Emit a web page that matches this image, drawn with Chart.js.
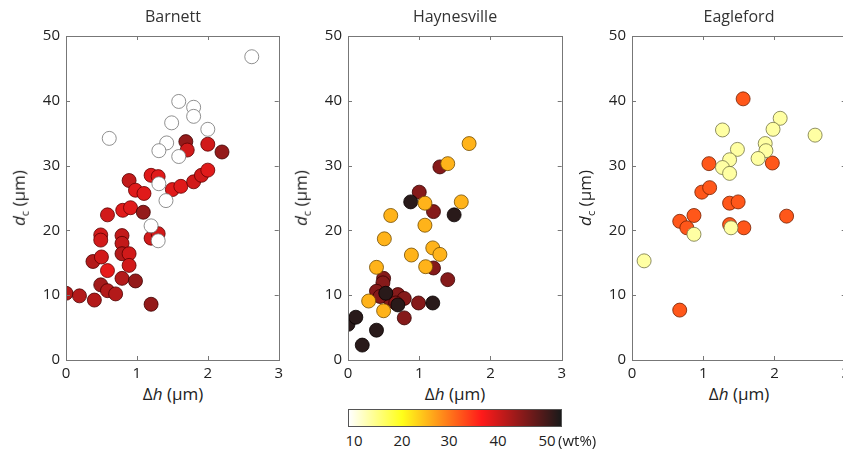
<!DOCTYPE html>
<html>
<head>
<meta charset="utf-8">
<script src="https://cdn.jsdelivr.net/npm/chart.js@4.4.1/dist/chart.umd.min.js"></script>
<style>
  html,body{margin:0;padding:0;background:#fff;}
  body{width:843px;height:454px;position:relative;overflow:hidden;font-family:"Open Sans",sans-serif;color:#222;}
  .pane{position:absolute;top:0;height:380px;}
  .txt{position:absolute;white-space:nowrap;font-size:15px;color:#222;line-height:18px;}
  .ttl{position:absolute;white-space:nowrap;font-size:16px;line-height:20px;color:#333;transform:translateX(-50%);}
  .ytitle{position:absolute;white-space:nowrap;font-size:17px;line-height:20px;color:#222;transform:translate(-50%,-50%) rotate(-90deg);}
  #cbar{position:absolute;left:348px;top:409px;width:214px;height:18px;border:1px solid #555;box-sizing:border-box;}
</style>
</head>
<body>
<script>
// ---------------- data ----------------
const panelTitles = ["Barnett", "Haynesville", "Eagleford"];
const xTicks = [0, 1, 2, 3];
const yTicks = [0, 10, 20, 30, 40, 50];
const cbarTicks = [10, 20, 30, 40, 50];

// Barnett: Δh (µm), d_c (µm), colour value (wt%)
const barnettX = [0,0.19,0.4,0.49,0.585,0.70,1.2,0.38,0.5,0.49,0.49,0.585,0.585,0.79,0.79,0.79,0.89,0.89,0.79,0.98,0.80,0.91,0.89,0.98,1.10,1.09,1.2,1.30,1.2,1.30,1.50,1.62,1.69,1.71,1.80,1.91,2.0,2.0,2.2,
                  2.62,1.59,1.80,1.80,1.49,2.0,0.61,1.42,1.31,1.59,1.31,1.41,1.2,1.30];
const barnettY = [10.3,9.9,9.25,11.6,10.7,10.2,8.6,15.2,15.9,19.3,18.5,13.8,22.4,19.2,18.0,16.4,16.4,14.6,12.6,12.2,23.1,23.5,27.7,26.2,25.7,22.8,28.5,28.3,18.8,19.5,26.3,26.8,33.7,32.4,27.5,28.5,29.3,33.3,32.1,
                  46.8,39.9,39.0,37.6,36.6,35.6,34.2,33.5,32.3,31.4,27.2,24.6,20.7,18.4];
const barnettW = [40,40,40,41,40,40,42,40,38,38,38,36.5,38,39,39,40,38,38,40,42,37,37,39,37,37,42,37,37,38,38,37,37,42,38,38,38,37,38,42,
                  10,10,10,10,10,10,10,10,10,10,10,10,10,10];

const haynesX = [1.29,1.0,1.2,1.2,1.40,0.50,0.49,0.40,0.58,0.70,0.79,0.67,0.99,0.79,0.45,
                 0.88,1.49,1.19,0,0.11,0.40,0.2,0.53,0.70,
                 1.70,1.40,1.59,1.08,0.60,1.08,0.51,1.19,1.29,0.89,1.09,0.40,0.29,0.50];
const haynesY = [29.8,25.9,22.9,14.2,12.4,12.6,11.9,10.6,9.5,10.1,9.5,8.8,8.8,6.5,9.8,
                 24.4,22.4,8.8,5.5,6.6,4.6,2.3,10.3,8.5,
                 33.4,30.3,24.4,24.2,22.3,20.8,18.7,17.3,16.3,16.2,14.4,14.3,9.1,7.6];
const haynesW = [43,43,43,43,43,43,43,43,43,43,43,43,43,43,43,
                 49,49,49,49,49,49,49,49,49,
                 25,25,25,25,25,25,25,25,25,25,25,25,25,25];

const eagleX = [1.56,1.08,1.97,0.98,1.09,1.37,1.49,0.87,0.67,0.77,1.37,1.57,2.17,0.67,
                1.27,2.08,1.98,2.57,1.48,1.87,1.88,1.37,1.27,1.37,1.77,1.39,0.87,0.17];
const eagleY = [40.3,30.3,30.4,25.9,26.6,24.2,24.4,22.3,21.4,20.4,20.9,20.4,22.2,7.7,
                35.5,37.3,35.6,34.7,32.5,33.4,32.3,30.9,29.7,28.8,31.1,20.4,19.4,15.3];
const eagleW = [31,31,31,31,31,31,31,31,31,31,31,31,31,31,
                14,14,14,14,14,14,14,14,14,14,14,14,14,14];

// ---------------- colour map (reversed "hot") ----------------
function hotRev(w){
  const v = Math.max(0, Math.min(1, 1 - (w - 10) / 40));
  const r = Math.min(1, v / 0.375);
  const g = Math.max(0, Math.min(1, (v - 0.375) / 0.375));
  const b = Math.max(0, Math.min(1, (v - 0.75) / 0.25));
  return [r, g, b];
}
function rgb(c, k, lift){
  const f = x => Math.round(255 * (x * k + (lift || 0) * (1 - x * k)));
  return `rgb(${f(c[0])},${f(c[1])},${f(c[2])})`;
}

// ---------------- layout ----------------
const panes = [
  {left: 26, width: 262},
  {left: 308, width: 263},
  {left: 592, width: 263}
];
const datasets = [
  [barnettX, barnettY, barnettW],
  [haynesX, haynesY, haynesW],
  [eagleX, eagleY, eagleW]
];

const frame = {
  id: 'frame',
  afterDatasetsDraw(chart){
    const {ctx, chartArea: a, scales} = chart;
    ctx.save();
    ctx.strokeStyle = '#777';
    ctx.lineWidth = 1;
    ctx.beginPath();
    xTicks.forEach(t => {
      const x = Math.round(scales.x.getPixelForValue(t)) + 0.5;
      ctx.moveTo(x, a.bottom); ctx.lineTo(x, a.bottom - 4);
      ctx.moveTo(x, a.top); ctx.lineTo(x, a.top + 4);
    });
    yTicks.forEach(t => {
      const y = Math.round(scales.y.getPixelForValue(t)) + 0.5;
      ctx.moveTo(a.left, y); ctx.lineTo(a.left + 4, y);
      ctx.moveTo(a.right, y); ctx.lineTo(a.right - 4, y);
    });
    ctx.stroke();
    ctx.strokeRect(Math.round(a.left) + 0.5, Math.round(a.top) + 0.5, Math.round(a.right - a.left), Math.round(a.bottom - a.top));
    ctx.restore();
  }
};

Chart.defaults.font.family = '"Open Sans", sans-serif';
Chart.defaults.color = '#222';

panes.forEach((p, i) => {
  const div = document.createElement('div');
  div.className = 'pane';
  div.style.left = p.left + 'px';
  div.style.width = p.width + 'px';
  const cv = document.createElement('canvas');
  div.appendChild(cv);
  document.body.appendChild(div);

  const [xs, ys, ws] = datasets[i];
  const pts = xs.map((x, j) => ({x, y: ys[j]}));
  const fills = ws.map(w => rgb(hotRev(w), 1, 0.1));
  const edges = ws.map(w => rgb(hotRev(w), 0.45, 0));

  new Chart(cv, {
    type: 'scatter',
    data: {datasets: [{
      data: pts,
      backgroundColor: fills,
      borderColor: edges,
      borderWidth: 0.8,
      pointRadius: 7,
      pointHoverRadius: 7
    }]},
    options: {
      responsive: true,
      maintainAspectRatio: false,
      animation: false,
      events: [],
      layout: {padding: {top: 36, right: 8, left: 0, bottom: 0}},
      plugins: {legend: {display: false}, tooltip: {enabled: false}},
      scales: {
        x: {
          type: 'linear', min: 0, max: 3,
          afterBuildTicks: s => { s.ticks = xTicks.map(v => ({value: v})); },
          afterFit: s => { s.height = 20; },
          grid: {display: false, drawTicks: false},
          border: {display: false},
          ticks: {font: {size: 15}, color: '#222', padding: 5, maxRotation: 0}
        },
        y: {
          type: 'linear', min: 0, max: 50,
          afterBuildTicks: s => { s.ticks = yTicks.map(v => ({value: v})); },
          afterFit: s => { s.width = 40; },
          grid: {display: false, drawTicks: false},
          border: {display: false},
          ticks: {font: {size: 15}, color: '#222', padding: 6}
        }
      }
    },
    plugins: [frame]
  });
});

// ---------------- text overlays ----------------
function addText(cls, html, left, top){
  const d = document.createElement('div');
  d.className = cls;
  d.innerHTML = html;
  d.style.left = left + 'px';
  d.style.top = top + 'px';
  document.body.appendChild(d);
  return d;
}
const plotLefts = [66, 348, 632];
panelTitles.forEach((t, i) => {
  addText('ttl', t, plotLefts[i] + 107, 6);
  const xt = addText('ttl', '&Delta;<i>h</i> (&micro;m)', plotLefts[i] + 107, 384);
  xt.style.fontSize = '17px'; xt.style.color = '#222';
  addText('ytitle', '<i>d</i><sub style="font-size:11px">c</sub> (&micro;m)', plotLefts[i] - 44, 198);
});

// colour bar
const cb = document.createElement('div');
cb.id = 'cbar';
const stops = [];
for (let w = 10; w <= 50; w += 2.5) stops.push(rgb(hotRev(w), 1, 0.1) + ' ' + ((w - 10) / 40 * 100) + '%');
cb.style.background = 'linear-gradient(to right,' + stops.join(',') + ')';
document.body.appendChild(cb);
const cbPos = [354, 402, 449, 498, 547];
cbarTicks.forEach((t, i) => {
  const d = addText('ttl', String(t), cbPos[i], 430);
  d.style.fontSize = '15px'; d.style.color = '#222';
});
addText('txt', '(wt%)', 558, 431);
</script>
</body>
</html>
